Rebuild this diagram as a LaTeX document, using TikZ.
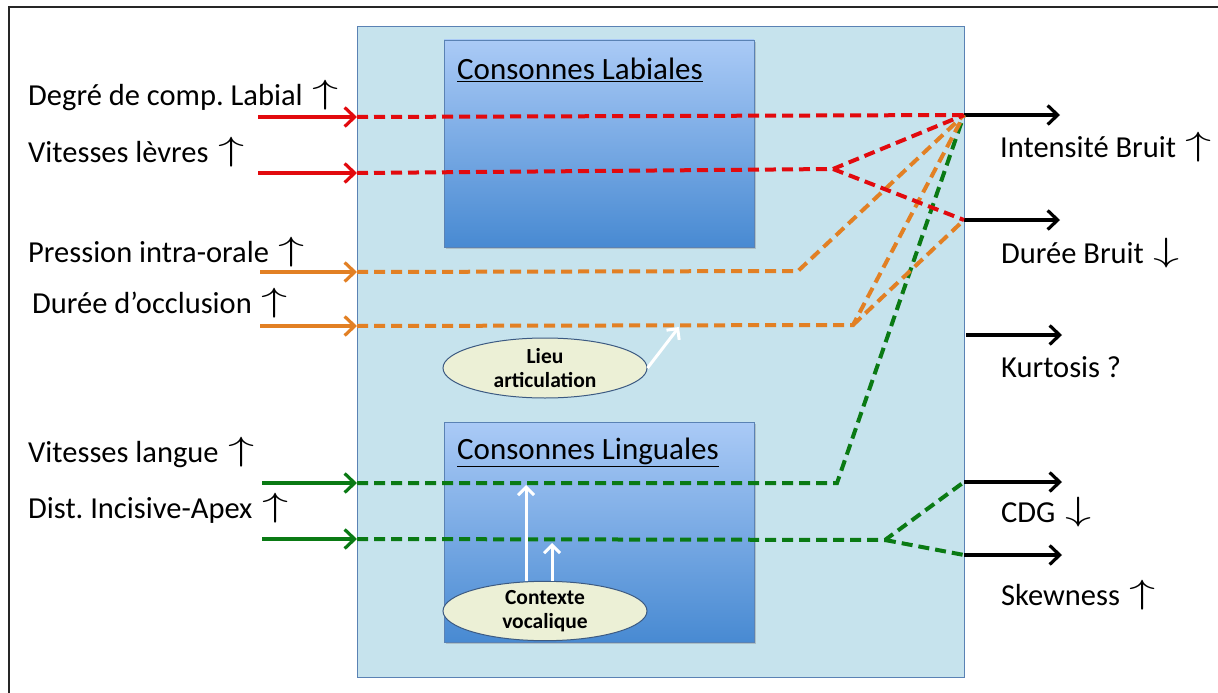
\documentclass[tikz,border=0pt]{standalone}
\usepackage{graphicx}
\usepackage{fontspec}
\setmainfont{Carlito}
\usetikzlibrary{arrows.meta,shapes.geometric,shadows}
\definecolor{redl}{RGB}{226,10,14}
\definecolor{orangel}{RGB}{226,128,36}
\definecolor{greenl}{RGB}{10,122,20}
\definecolor{mainfill}{RGB}{198,227,237}
\definecolor{mainborder}{RGB}{90,130,180}
\definecolor{boxtop}{RGB}{170,202,246}
\definecolor{boxbot}{RGB}{72,138,210}
\definecolor{ellfill}{RGB}{236,240,214}
\definecolor{ellborder}{RGB}{60,90,130}
\newcommand{\up}{\hspace{3pt}\smash{\raisebox{2pt}{\scalebox{2.1}[1.35]{$\uparrow$}}}}
\newcommand{\dn}{\hspace{3pt}\smash{\raisebox{2pt}{\scalebox{2.1}[1.35]{$\downarrow$}}}}
\tikzset{
  lbl/.style={anchor=west, inner sep=0pt, font=\fontsize{30.5}{36}\selectfont},
  inarrow/.style={line width=3.2pt, -{Straight Barb[length=10pt,width=19pt,line width=3.2pt]}},
  outarrow/.style={line width=3.2pt, black, -{Straight Barb[length=10pt,width=19pt,line width=3.2pt]}},
  dsh/.style={line width=4pt, dash pattern=on 11pt off 6pt},
  subbox/.style={anchor=north west, minimum width=310pt, outer sep=0pt, inner sep=0pt,
     top color=boxtop, bottom color=boxbot, draw=mainborder, line width=0.6pt,
     drop shadow={shadow xshift=1.5pt, shadow yshift=-2pt, opacity=0.35}},
  ell/.style={ellipse, draw=ellborder, line width=1pt, fill=ellfill, minimum width=204pt,
     minimum height=60pt, inner sep=0pt, align=center, font=\bfseries\fontsize{21.5}{24.5}\selectfont},
  wht/.style={white, line width=3pt, -{Straight Barb[length=8pt,width=16pt,line width=3pt]}},
  title/.style={anchor=west, inner sep=0pt, font=\fontsize{31}{36}\selectfont}
}
\begin{document}
\frenchspacing
\begin{tikzpicture}[x=1pt,y=-1pt]
\useasboundingbox (0,0) rectangle (1218,693);
% outer frame (only top and left visible)
\draw[line width=2pt, black!85] (9,710) -- (9,7) -- (1230,7);
% main box
\node[anchor=north west, minimum width=607pt, minimum height=651pt, outer sep=0pt, inner sep=0pt,
  fill=mainfill, draw=mainborder, line width=0.8pt] (main) at (357,26) {};
% sub boxes
\node[subbox, minimum height=207pt] (lab) at (444,40) {};
\node[subbox, minimum height=220pt] (ling) at (444,422) {};
\node[title] (labt) at (457,70) {\underline{Consonnes Labiales}};
\node[title] (lingt) at (457,452) {\underline{Consonnes Linguales}};
% ellipses
\node[ell] (lieu) at (545,368) {Lieu\\articulation};
\node[ell, minimum height=58pt] (ctx) at (545,611) {Contexte\\vocalique};
% left labels
\node[lbl] (l1) at (28,98) {Degré de comp. Labial \up};
\node[lbl] (l2) at (28,152) {Vitesses lèvres \up};
\node[lbl] (l3) at (28,252) {Pression intra-orale \up};
\node[lbl] (l4) at (32,303) {Durée d’occlusion \up};
\node[lbl] (l5) at (28,455) {Vitesses langue \up};
\node[lbl] (l6) at (28,510) {Dist. Incisive-Apex \up};
% right labels
\node[lbl] (r1) at (1000,147) {Intensité Bruit \up};
\node[lbl] (r2) at (1001,253) {Durée Bruit \dn};
\node[lbl] (r3) at (1001,367) {Kurtosis ?};
\node[lbl] (r4) at (1001,513) {CDG \dn};
\node[lbl] (r5) at (1001,595) {Skewness \up};
% coordinates
\coordinate (a1) at (258,117); \coordinate (b1) at (357,117);
\coordinate (a2) at (258,173); \coordinate (b2) at (357,173);
\coordinate (a3) at (260,272); \coordinate (b3) at (357,272);
\coordinate (a4) at (260,326); \coordinate (b4) at (357,326);
\coordinate (a5) at (262,483); \coordinate (b5) at (357,483);
\coordinate (a6) at (262,539); \coordinate (b6) at (357,539);
\coordinate (o1) at (964,115); \coordinate (e1) at (1060,115);
\coordinate (o2) at (964,220); \coordinate (e2) at (1060,220);
\coordinate (o3) at (966,335); \coordinate (e3) at (1062,335);
\coordinate (o4) at (964,482); \coordinate (e4) at (1062,482);
\coordinate (o5) at (964,555); \coordinate (e5) at (1062,555);
\coordinate (j2) at (833,169);
\coordinate (j3) at (798,271);
\coordinate (j4) at (853,325);
\coordinate (j5) at (837,483);
\coordinate (j6) at (885,540);
\coordinate (w1) at (679,327);
\coordinate (w2) at (526,485);
\coordinate (w3) at (552,543);
% input arrows
\draw[inarrow, redl] (a1) -- (b1);
\draw[inarrow, redl] (a2) -- (b2);
\draw[inarrow, orangel] (a3) -- (b3);
\draw[inarrow, orangel] (a4) -- (b4);
\draw[inarrow, greenl] (a5) -- (b5);
\draw[inarrow, greenl] (a6) -- (b6);
% output arrows
\draw[outarrow] (o1) -- (e1);
\draw[outarrow] (o2) -- (e2);
\draw[outarrow] (o3) -- (e3);
\draw[outarrow] (o4) -- (e4);
\draw[outarrow] (o5) -- (e5);
% dashed links
\draw[dsh, greenl] (b5) -- (j5) -- (o1);
\draw[dsh, greenl] (b6) -- (j6) -- (o4);
\draw[dsh, greenl] (j6) -- (o5);
\draw[dsh, orangel] (b3) -- (j3) -- (o1);
\draw[dsh, orangel] (b4) -- (j4) -- (o1);
\draw[dsh, orangel] (j4) -- (o2);
\draw[dsh, redl] (b1) -- (o1);
\draw[dsh, redl] (b2) -- (j2) -- (o1);
\draw[dsh, redl] (j2) -- (o2);
% white arrows
\draw[wht] (lieu.east) -- (w1);
\draw[wht] (ctx.north -| w2) -- (w2);
\draw[wht] (ctx.north -| w3) -- (w3);
\end{tikzpicture}
\end{document}
